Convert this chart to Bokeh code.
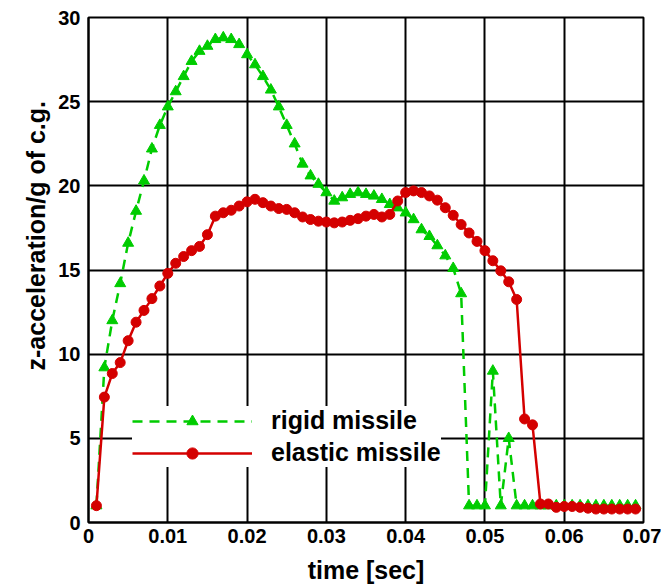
from bokeh.plotting import figure
from bokeh.models import Range1d, FixedTicker, Legend, LegendItem, Title
from bokeh.embed import file_html
from bokeh.resources import INLINE

# ---- data ----
time_steps = [k * 0.001 for k in range(1, 70)]

rigid_missile = [
    1.0, 9.2, 12.0, 14.2, 16.6, 18.5, 20.3, 22.2, 23.6, 24.7,
    25.6, 26.5, 27.4, 28.0, 28.3, 28.7, 28.8, 28.7, 28.4, 27.8,
    27.2, 26.5, 25.7, 24.7, 23.6, 22.5, 21.3, 20.6, 20.1, 19.6,
    19.1, 19.3, 19.5, 19.6, 19.5, 19.4, 19.2, 18.9, 18.7, 18.4,
    18.0, 17.4, 17.0, 16.45, 15.85, 15.1, 13.6, 1.0, 1.0, 1.0,
    9.0, 1.0, 5.0, 1.0, 1.0, 1.0, 1.0, 1.0, 1.0, 1.0,
    1.0, 1.0, 1.0, 1.0, 1.0, 1.0, 1.0, 1.0, 1.0,
]

elastic_missile = [
    1.0, 7.45, 8.85, 9.5, 10.8, 11.9, 12.6, 13.3, 14.05, 14.8,
    15.4, 15.8, 16.15, 16.4, 17.1, 18.2, 18.4, 18.55, 18.8, 19.05,
    19.2, 19.0, 18.8, 18.65, 18.6, 18.4, 18.15, 18.0, 17.9, 17.85,
    17.8, 17.85, 17.95, 18.05, 18.2, 18.3, 18.15, 18.3, 19.1, 19.6,
    19.7, 19.6, 19.4, 19.15, 18.7, 18.25, 17.7, 17.2, 16.7, 16.15,
    15.55, 14.95, 14.3, 13.25, 6.15, 5.8, 1.1, 1.1, 0.9, 0.95,
    0.95, 0.9, 0.85, 0.8, 0.8, 0.8, 0.8, 0.8, 0.8,
]

x_ticks = [0, 0.01, 0.02, 0.03, 0.04, 0.05, 0.06, 0.07]
x_tick_labels = ["0", "0.01", "0.02", "0.03", "0.04", "0.05", "0.06", "0.07"]
y_ticks = [0, 5, 10, 15, 20, 25, 30]
y_tick_labels = ["0", "5", "10", "15", "20", "25", "30"]

GREEN = "#00CC00"
RED = "#D40000"
FONT = "Liberation Sans"

p = figure(width=661, height=587, x_range=Range1d(0, 0.07), y_range=Range1d(0, 30),
           output_backend="svg", toolbar_location=None,
           min_border_left=88, min_border_right=18, min_border_top=17, min_border_bottom=65)

p.background_fill_color = "white"
p.border_fill_color = "white"
p.outline_line_color = "black"
p.outline_line_width = 2

for ax in (p.xaxis[0], p.yaxis[0]):
    ax.axis_line_color = "black"
    ax.axis_line_width = 2
    ax.major_tick_in = 0
    ax.major_tick_out = 0
    ax.minor_tick_in = 0
    ax.minor_tick_out = 0
    ax.major_label_text_font = FONT
    ax.major_label_text_font_style = "bold"
    ax.major_label_text_font_size = "20px"
    ax.major_label_text_color = "black"
    ax.axis_label_text_font = FONT
    ax.axis_label_text_font_style = "bold"
    ax.axis_label_text_color = "black"

p.xaxis.ticker = FixedTicker(ticks=x_ticks)
p.yaxis.ticker = FixedTicker(ticks=y_ticks)
p.xaxis.major_label_overrides = {t: l for t, l in zip(x_ticks, x_tick_labels)}
p.yaxis.major_label_overrides = {t: l for t, l in zip(y_ticks, y_tick_labels)}
p.xaxis.major_label_standoff = 6
p.yaxis.major_label_standoff = 8

p.xaxis.axis_label = "time [sec]"
p.xaxis.axis_label_text_font_size = "25px"
p.xaxis.axis_label_standoff = 10

# y-axis title as a side title so it can sit above the frame centre like the original
ytitle = Title(text="z-acceleration/g of c.g.", align="left", offset=152,
               text_font=FONT, text_font_style="bold", text_font_size="25px",
               text_color="black", standoff=11)
p.add_layout(ytitle, "left")

p.xgrid.ticker = FixedTicker(ticks=x_ticks)
p.ygrid.ticker = FixedTicker(ticks=y_ticks)
for g in (p.xgrid[0], p.ygrid[0]):
    g.grid_line_color = "black"
    g.grid_line_width = 2
    g.grid_line_alpha = 1

gl = p.line(time_steps, rigid_missile, line_color=GREEN, line_width=2.5, line_dash="10 7")
gs = p.scatter(time_steps, rigid_missile, marker="triangle", size=11,
               fill_color=GREEN, line_color=GREEN)
rl = p.line(time_steps, elastic_missile, line_color=RED, line_width=2.5)
rs = p.scatter(time_steps, elastic_missile, marker="circle", size=10,
               fill_color=RED, line_color=RED)

legend = Legend(items=[LegendItem(label="rigid missile", renderers=[gl, gs]),
                       LegendItem(label="elastic missile", renderers=[rl, rs])],
                location=(44, 55), glyph_width=120, glyph_height=28, label_height=28,
                label_standoff=19, padding=6, spacing=3, margin=0,
                border_line_color=None, background_fill_color="white",
                background_fill_alpha=1,
                label_text_font=FONT, label_text_font_style="bold",
                label_text_font_size="25px", label_text_color="black")
p.add_layout(legend)

open("out.html", "w").write(file_html(p, INLINE))
